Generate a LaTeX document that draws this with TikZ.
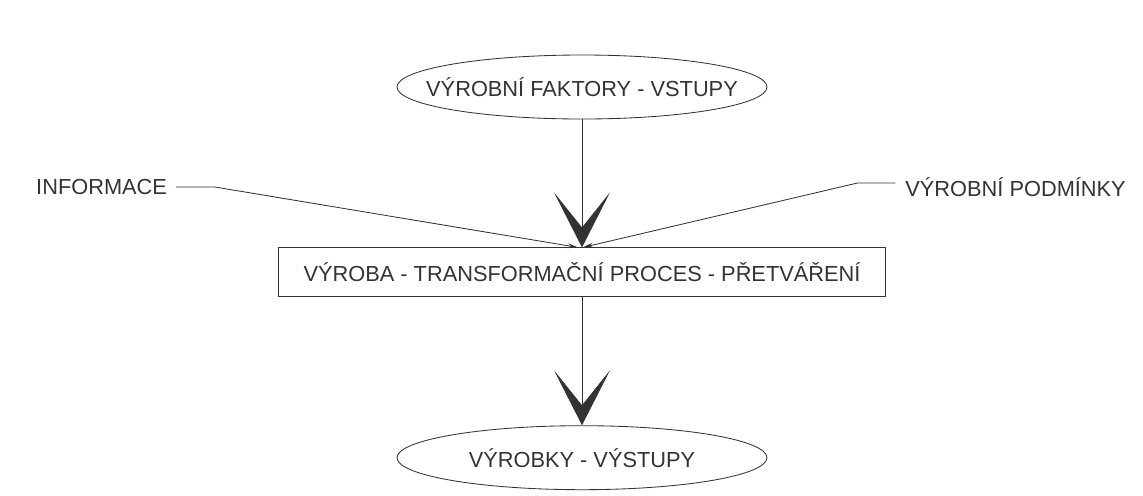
\documentclass[tikz,border=0pt]{standalone}
\usepackage{fontspec}
\setmainfont{Liberation Sans}
\usetikzlibrary{arrows.meta, positioning, shapes.geometric}

\begin{document}
\begin{tikzpicture}[
    node distance=3.2cm,
    every node/.style={align=center, font=\fontsize{15.5}{18}\selectfont, text=black!80},
    bigarrow/.style={-{Stealth[length=1.375cm, width=1.4cm, inset=0.875cm]}, line width=0.6pt, draw=black!80},
    pinarrow/.style={-{Stealth[length=0.26cm, width=0.12cm]}, line width=0.6pt, draw=black!80},
    oval/.style={ellipse, draw=black!80, line width=0.6pt, inner xsep=-1cm, inner ysep=0pt, minimum width=9.25cm, minimum height=1.6cm},
    process/.style={rectangle, draw=black!80, line width=0.6pt, minimum width=15.18cm, minimum height=1.225cm, text centered}
]
\useasboundingbox (0,0) rectangle (28.575,-12.375);
\node[oval] (in) at (14.55,-2.175) {VÝROBNÍ FAKTORY - VSTUPY};
\node[process, below=of in] (proc) {VÝROBA - TRANSFORMAČNÍ PROCES - PŘETVÁŘENÍ};
\node[oval, below=of proc] (out) {VÝROBKY - VÝSTUPY};
\node (info) at (2.54,-4.675) {INFORMACE};
\node (cond) at (25.39,-4.675) {VÝROBNÍ PODMÍNKY};

\draw[bigarrow] (in) -- (proc);
\draw[bigarrow] (proc) -- (out);
\draw[pinarrow] ([xshift=0.1cm]info.east) -- ++(0.975,0) -- ([xshift=-0.1cm]proc.north);
\draw[pinarrow] ([xshift=-0.125cm, yshift=0.1cm]cond.west) -- ++(-0.95,0) -- ([xshift=0.02cm]proc.north);
\end{tikzpicture}
\end{document}
